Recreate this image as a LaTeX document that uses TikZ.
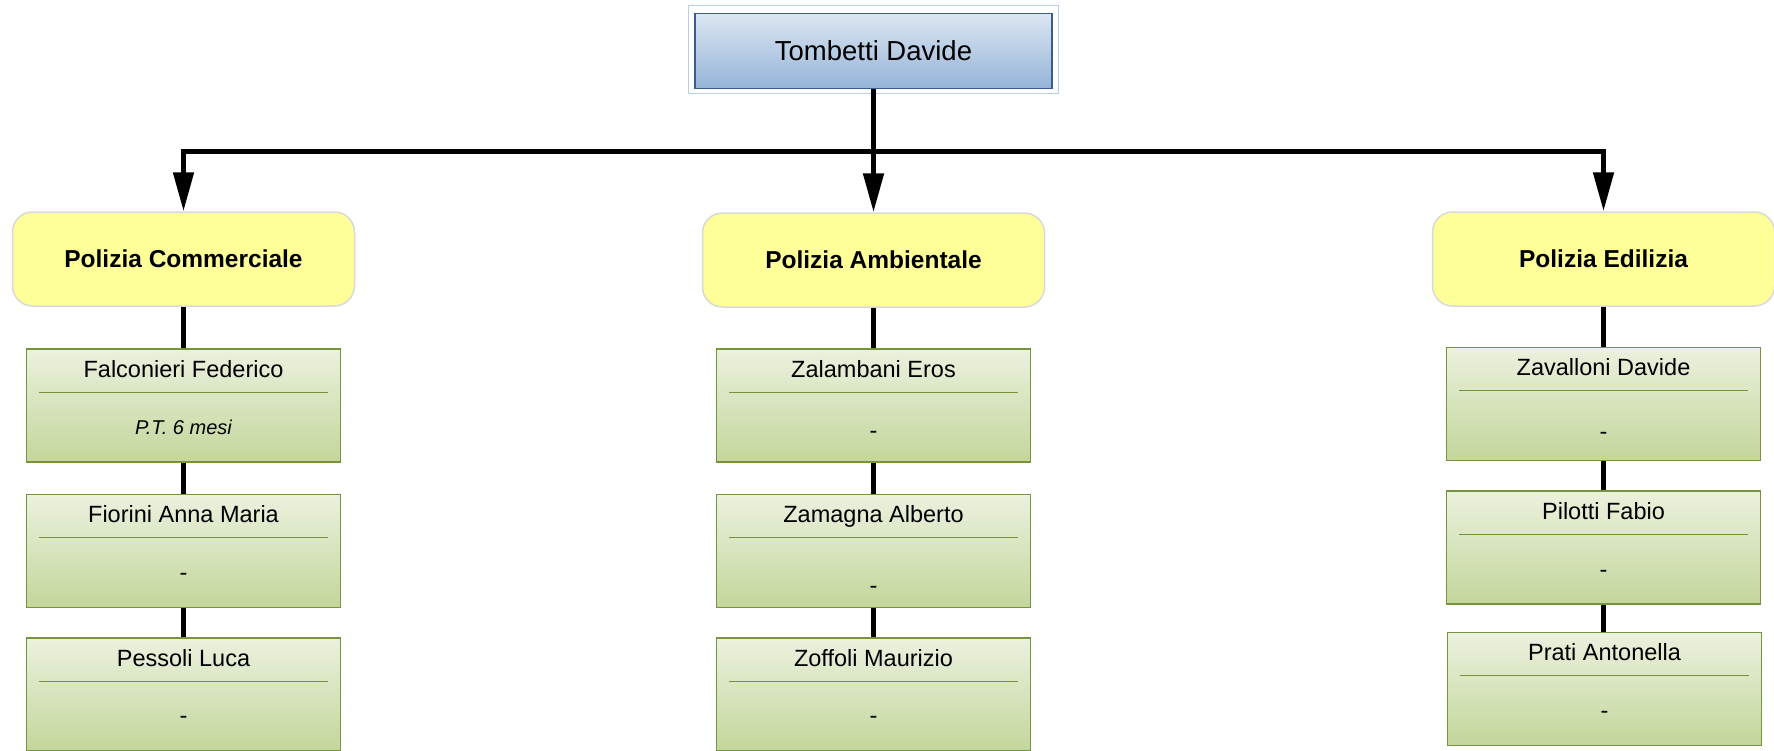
\documentclass[tikz,border=0pt]{standalone}
\usepackage{fontspec}
\setmainfont{Liberation Sans}
\usetikzlibrary{arrows.meta}
\definecolor{topA}{HTML}{DCE6F2}
\definecolor{topB}{HTML}{95B3D7}
\definecolor{topLine}{HTML}{385D8A}
\definecolor{topOuter}{HTML}{B9CDE5}
\definecolor{deptFill}{HTML}{FFFF99}
\definecolor{deptLine}{HTML}{D9D9D9}
\definecolor{staffA}{HTML}{EBF1DE}
\definecolor{staffB}{HTML}{C3D69B}
\definecolor{staffLine}{HTML}{77933C}
\tikzset{
  topbox/.style={rectangle, draw=topLine, line width=1.5pt, top color=topA, bottom color=topB,
    minimum width=357pt, minimum height=75pt, inner sep=0pt, text depth=0pt, font=\fontsize{27.5}{30}\selectfont},
  deptbox/.style={rectangle, rounded corners=20pt, draw=deptLine, line width=1.5pt, fill=deptFill,
    minimum width=342pt, minimum height=94pt, inner sep=0pt, font=\fontsize{24.5}{28}\selectfont\bfseries},
  staffbox/.style={rectangle, draw=staffLine, line width=1.5pt, top color=staffA, bottom color=staffB,
    minimum width=314pt, minimum height=113pt, inner sep=0pt},
  nametext/.style={anchor=base, inner sep=0pt, font=\fontsize{23.5}{26}\selectfont},
  subtext/.style={anchor=base, inner sep=0pt, font=\fontsize{23.5}{26}\selectfont},
  subital/.style={anchor=base, inner sep=0pt, font=\fontsize{20}{24}\selectfont\itshape},
  sepline/.style={draw=staffLine, line width=1.2pt},
  link/.style={draw=black, line width=5pt},
  arrowlink/.style={draw=black, line width=5pt, -{Triangle[length=39pt,width=20pt]}}
}
\newcommand\staffnode[7]{%
  \node[staffbox] (#1) at (#2,#3) {};
  \node[nametext] (#1-a) at ([yshift=-29pt]#1.north) {#4};
  \draw[sepline] ([xshift=13pt,yshift=-44pt]#1.north west) -- ([xshift=-13pt,yshift=-44pt]#1.north east);
  \node[#7] (#1-b) at ([yshift=-#6pt]#1.north) {#5};
}
\begin{document}
\begin{tikzpicture}[x=1pt,y=-1pt]
\useasboundingbox (0,0) rectangle (1774,750);
% top
\node[topbox] (top) at (873.5,51) {Tombetti Davide};
\draw[topOuter, line width=1pt] ([xshift=-6pt,yshift=7.5pt]top.north west) rectangle ([xshift=6pt,yshift=-4.5pt]top.south east);
% departments
\node[deptbox] (dc) at (183.5,259) {Polizia Commerciale};
\node[deptbox] (da) at (873.5,260) {Polizia Ambientale};
\node[deptbox] (de) at (1603.5,259) {Polizia Edilizia};
% staff
\staffnode{c1}{183.5}{405.5}{Falconieri Federico}{P.T. 6 mesi}{86}{subital}
\staffnode{c2}{183.5}{551}{Fiorini Anna Maria}{-}{86.5}{subtext}
\staffnode{c3}{183.5}{694.5}{Pessoli Luca}{-}{86.5}{subtext}
\staffnode{a1}{873.5}{405.5}{Zalambani Eros}{-}{90.5}{subtext}
\staffnode{a2}{873.5}{551}{Zamagna Alberto}{-}{99.5}{subtext}
\staffnode{a3}{873.5}{694.5}{Zoffoli Maurizio}{-}{86.5}{subtext}
\staffnode{e1}{1603.5}{404}{Zavalloni Davide}{-}{92.5}{subtext}
\staffnode{e2}{1603.5}{547.5}{Pilotti Fabio}{-}{87.5}{subtext}
\staffnode{e3}{1604.5}{689}{Prati Antonella}{-}{86.5}{subtext}
% connectors
\coordinate (bus) at (873.5,151);
\draw[link] (top.south) -- (bus);
\draw[arrowlink] (bus) -| (dc.north);
\draw[arrowlink] (bus) -- (da.north);
\draw[arrowlink] (bus) -| (de.north);
\draw[link] (dc.south) -- (dc.south |- c1.north);
\draw[link] (c1.south) -- (c1.south |- c2.north);
\draw[link] (c2.south) -- (c2.south |- c3.north);
\draw[link] (da.south) -- (da.south |- a1.north);
\draw[link] (a1.south) -- (a1.south |- a2.north);
\draw[link] (a2.south) -- (a2.south |- a3.north);
\draw[link] (de.south) -- (de.south |- e1.north);
\draw[link] (e1.south) -- (e1.south |- e2.north);
\draw[link] (e2.south) -- (e2.south |- e3.north);
\end{tikzpicture}
\end{document}
